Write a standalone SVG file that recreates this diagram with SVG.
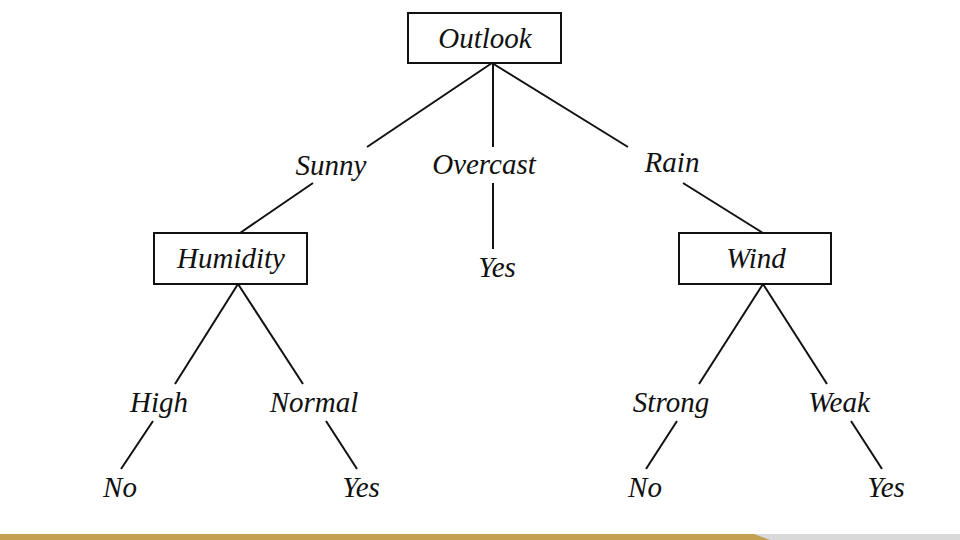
<svg xmlns="http://www.w3.org/2000/svg" width="960" height="540" viewBox="0 0 960 540">
<style>
.box{fill:#fff;stroke:#111;stroke-width:2}
.t{font-family:"Liberation Serif","Times New Roman",serif;font-style:italic;font-size:29px;fill:#111;text-anchor:middle}
.c line{stroke:#111;stroke-width:2;stroke-linecap:butt}
</style>
<rect width="960" height="540" fill="#fff"/>
<g class="c" id="connectors">
<line x1="492" y1="63" x2="367" y2="147"/>
<line x1="313" y1="183" x2="240" y2="233"/>
<line x1="493" y1="63" x2="493" y2="147"/>
<line x1="493" y1="183" x2="493" y2="249"/>
<line x1="492" y1="63" x2="628" y2="147"/>
<line x1="683" y1="183" x2="763" y2="233"/>
<line x1="238" y1="284" x2="175" y2="384"/>
<line x1="238" y1="284" x2="303" y2="384"/>
<line x1="153" y1="421" x2="121" y2="469"/>
<line x1="326" y1="421" x2="357" y2="469"/>
<line x1="763" y1="284" x2="699" y2="384"/>
<line x1="763" y1="284" x2="827" y2="384"/>
<line x1="677" y1="421" x2="646" y2="469"/>
<line x1="851" y1="421" x2="882" y2="469"/>
</g>
<g id="outlook"><rect class="box" x="408" y="13" width="153" height="50"/><text class="t" x="485" y="48">Outlook</text></g>
<g id="sunny"><text class="t" x="331" y="175">Sunny</text></g>
<g id="overcast"><text class="t" x="484" y="174">Overcast</text></g>
<g id="rain"><text class="t" x="672" y="172">Rain</text></g>
<g id="humidity"><rect class="box" x="154" y="233" width="153" height="51"/><text class="t" x="231" y="268">Humidity</text></g>
<g id="yes-overcast"><text class="t" x="497" y="277">Yes</text></g>
<g id="wind"><rect class="box" x="679" y="233" width="152" height="51"/><text class="t" x="756" y="268">Wind</text></g>
<g id="high"><text class="t" x="159" y="412">High</text></g>
<g id="normal"><text class="t" x="314" y="412">Normal</text></g>
<g id="strong"><text class="t" x="671" y="412">Strong</text></g>
<g id="weak"><text class="t" x="839" y="412">Weak</text></g>
<g id="no-high"><text class="t" x="120" y="497">No</text></g>
<g id="yes-normal"><text class="t" x="361" y="497">Yes</text></g>
<g id="no-strong"><text class="t" x="645" y="497">No</text></g>
<g id="yes-weak"><text class="t" x="886" y="497">Yes</text></g>
<rect x="0" y="534" width="960" height="6" fill="#d9d9d9"/>
<polygon points="0,534 754,534 770,540 0,540" fill="#c4a052"/>
</svg>
